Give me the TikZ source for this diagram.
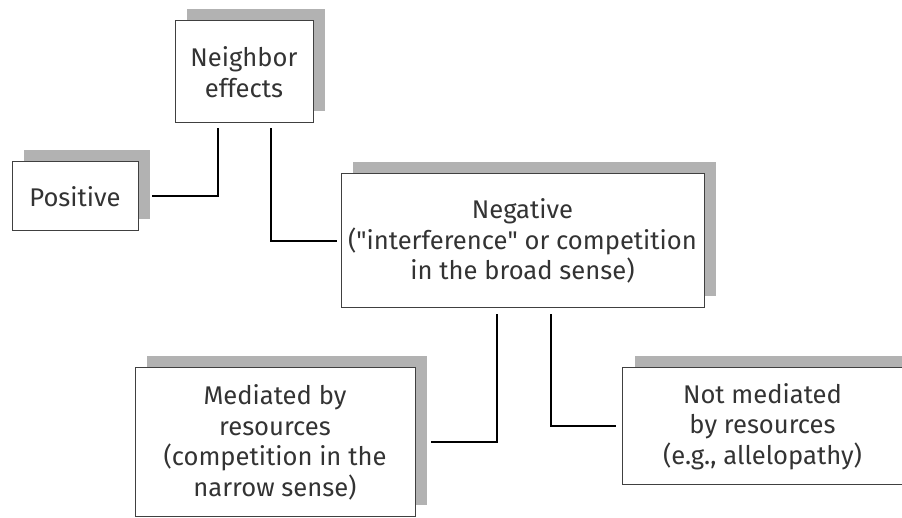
\documentclass[tikz,border=0pt]{standalone}
\usepackage{fontspec}
\setmainfont{Fira Sans}
\usepackage{tikz}
\usetikzlibrary{shadows}
\usetikzlibrary{positioning}
\tikzstyle{box} = [rectangle, draw=black!75, line width=0.5pt, fill=white, align=center,
text=black!80, font=\fontsize{12.8}{15.25}\selectfont, inner sep=0pt,
drop shadow={shadow xshift=6pt, shadow yshift=6pt, fill=black!30, opacity=1}]
\tikzstyle{link} = [line width=1pt, black]

\begin{document}
\begin{tikzpicture}[x=0.5pt, y=-0.5pt]
  \useasboundingbox (0,0) rectangle (902,518);
  \clip (0,0) rectangle (902,518);
  \node (neighbor) [box, minimum width=69pt, minimum height=51pt] at (244,72) {Neighbor\\effects};
  \node (positive) [box, minimum width=63pt, minimum height=34.5pt] at (75,196.5) {Positive};
  \node (negative) [box, minimum width=181.5pt, minimum height=67pt] at (522.5,241) {Negative\\(\textquotedbl interference\textquotedbl{} or competition\\in the broad sense)};
  \node (mediated) [box, minimum width=140pt, minimum height=74.5pt] at (275,442.5) {Mediated by\\resources\\(competition in the\\narrow sense)};
  \node (notmediated) [box, minimum width=140pt, minimum height=58.5pt] at (762.5,426.5) {Not mediated\\by resources\\(e.g., allelopathy)};

  \draw[link, shorten <=2.5pt, shorten >=6.5pt] ([xshift=-13pt]neighbor.south) |- (positive.east);
  \draw[link, shorten <=2.5pt, shorten >=2pt] ([xshift=13.5pt]neighbor.south) |- (negative.west);
  \draw[link, shorten <=3pt, shorten >=7.5pt] ([xshift=-13pt]negative.south) |- (mediated.east);
  \draw[link, shorten <=3pt, shorten >=3pt] ([xshift=14pt]negative.south) |- (notmediated.west);
\end{tikzpicture}
\end{document}
